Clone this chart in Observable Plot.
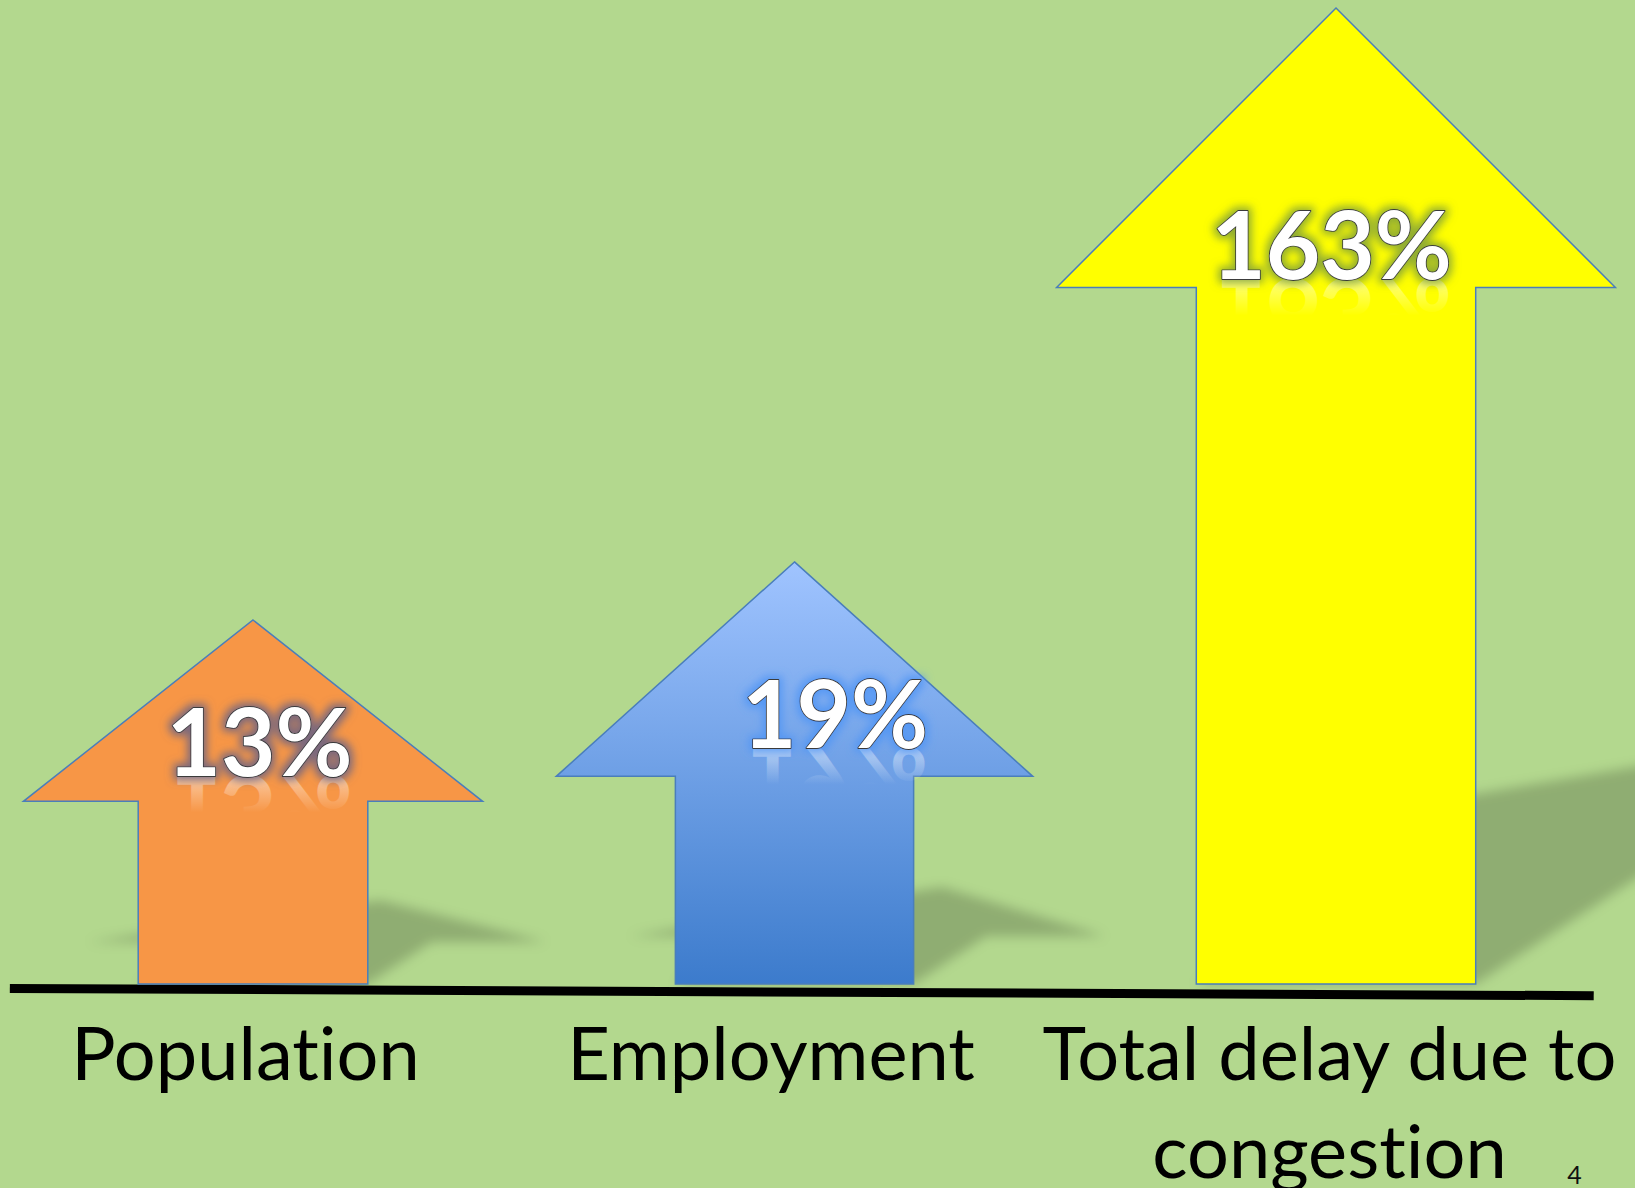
<!DOCTYPE html>
<html><head><meta charset="utf-8">
<script src="https://cdn.jsdelivr.net/npm/d3@7"></script>
<script src="https://cdn.jsdelivr.net/npm/@observablehq/plot@0.6"></script>
<style>html,body{margin:0;padding:0;background:#b3d88e;} svg{display:block} text{font-variant-ligatures:none}</style>
</head><body><div id="chart"></div>
<script>
// ---- data ----
const categories = ["Population", "Employment", "Total delay due to\ncongestion"];
const values = [13, 19, 163];
const valueLabels = ["13%", "19%", "163%"];
const slideNumber = ["4"];

// ---- styles (shape / offsets, not data) ----
const arrowFills = ["#f79646", "url(#blueGrad)", "#ffff00"];
const glowColors = ["#6e6482", "#4f95f5", "#7f9f3a"];
const glowOpacity = [0.9, 0.85, 0.85];
const shaftHalf = [0.212, 0.22, 0.258];   // in x units
const headRatio = [0.79, 0.9, 1.0];       // head height / head half-width
const pctDx = [6, 40, -5];
const pctLift = [26, 29, 9];
const catDx = [-8, -24, -7];
const baseExtent = [-0.449, 2.476];       // baseline extent, x units
const SK = 0.35, SS = 0.23;               // shadow skew / squash

const W = 1635, H = 1188;
const xOpts = {type: "linear", domain: [0, 2], range: [253, 1336]};
const yOpts = {type: "pow", exponent: 0.39, domain: [0, 163], range: [984, 8]};
const xS = Plot.scale({x: xOpts});
const yS = Plot.scale({y: yOpts});

function arrowGeom(i, sx, sy) {
  const cx = sx(i), unit = sx(1) - sx(0);
  const sh = shaftHalf[i] * unit, hw = 2 * sh;
  const ty = sy(values[i]), base = sy(0);
  const hb = ty + headRatio[i] * hw;
  const pts = [[cx, ty], [cx + hw, hb], [cx + sh, hb], [cx + sh, base], [cx - sh, base],
               [cx - sh, hb], [cx - hw, hb]];
  return {pts, hb, base};
}
const headBase = values.map((v, i) => arrowGeom(i, xS.apply, yS.apply).hb);

const pctData = values.map((v, i) => ({
  x: xS.invert(xS.apply(i) + pctDx[i]),
  y: yS.invert(headBase[i] - pctLift[i]),
  label: valueLabels[i]
}));
const catData = categories.map((c, i) => ({
  x: xS.invert(xS.apply(i) + catDx[i]), y: 0, label: c
}));

const shadowMark = (index, {x: sx, y: sy}) => {
  const g = d3.create("svg:g").attr("filter", "url(#blur6)");
  values.forEach((v, i) => {
    const {pts, base} = arrowGeom(i, sx, sy);
    const sp = pts.map(([a, b]) => [a + SK * (base - b), base - SS * (base - b)]);
    g.append("path").attr("d", d3.line()(sp) + "Z").attr("fill", "black").attr("fill-opacity", 0.2);
  });
  return g.node();
};
const baselineMark = (index, {x: sx, y: sy}) => {
  const g = d3.create("svg:g");
  const x1 = sx(baseExtent[0]), x2 = sx(baseExtent[1]), yb = sy(0);
  g.append("line").attr("x1", x1).attr("x2", x2).attr("y1", yb + 9).attr("y2", yb + 9)
    .attr("stroke", "black").attr("stroke-opacity", 0.3).attr("stroke-width", 8)
    .attr("filter", "url(#blur2)").attr("transform", `rotate(0.26 ${x1} ${yb})`);
  g.append("line").attr("x1", x1).attr("x2", x2).attr("y1", yb + 4.5).attr("y2", yb + 4.5)
    .attr("stroke", "black").attr("stroke-width", 9).attr("transform", `rotate(0.26 ${x1} ${yb})`);
  return g.node();
};
const arrowMark = (index, {x: sx, y: sy}) => {
  const g = d3.create("svg:g");
  values.forEach((v, i) => {
    const {pts} = arrowGeom(i, sx, sy);
    g.append("path").attr("d", d3.line()(pts) + "Z").attr("fill", arrowFills[i])
      .attr("stroke", "#4a7ebb").attr("stroke-width", 1.5).attr("stroke-linejoin", "miter");
  });
  return g.node();
};

const svg = Plot.plot({
  width: W, height: H,
  marginTop: 0, marginRight: 0, marginBottom: 0, marginLeft: 0,
  x: {...xOpts, axis: null},
  y: {...yOpts, axis: null},
  style: {background: "#b3d88e", fontFamily: "Lato, sans-serif"},
  marks: [
    shadowMark,
    baselineMark,
    arrowMark,
    Plot.text(pctData, {
      x: "x", y: "y", text: "label", fontSize: 94, fontWeight: 700,
      fill: "white", stroke: "#3a3a3a", strokeWidth: 1.8, lineAnchor: "bottom"
    }),
    Plot.text(catData, {
      x: "x", y: "y", text: "label", fontSize: 74, lineHeight: 1.324, lineAnchor: "top",
      dy: 26, fill: "black"
    }),
    Plot.text(slideNumber, {
      frameAnchor: "bottom-right", text: d => d, fontSize: 25, fill: "#111",
      textAnchor: "middle", lineAnchor: "bottom", dx: -61, dy: -5
    })
  ]
});

// ---- defs: gradients and filters ----
const defs = d3.select(svg).insert("defs", ":first-child");
const bg = defs.append("linearGradient").attr("id", "blueGrad")
  .attr("x1", 0).attr("y1", 0).attr("x2", 0).attr("y2", 1);
bg.append("stop").attr("offset", 0).attr("stop-color", "#a0c4ff");
bg.append("stop").attr("offset", 1).attr("stop-color", "#3c7bcc");
const rg = defs.append("linearGradient").attr("id", "refl")
  .attr("x1", 0).attr("y1", 1).attr("x2", 0).attr("y2", 0);
rg.append("stop").attr("offset", 0).attr("stop-color", "white").attr("stop-opacity", 0.55);
rg.append("stop").attr("offset", 0.18).attr("stop-color", "white").attr("stop-opacity", 0.5);
rg.append("stop").attr("offset", 0.5).attr("stop-color", "white").attr("stop-opacity", 0);
defs.append("filter").attr("id", "blur6").attr("x", "-20%").attr("y", "-50%").attr("width", "140%").attr("height", "200%")
  .append("feGaussianBlur").attr("stdDeviation", 6);
defs.append("filter").attr("id", "blur2").attr("x", "-5%").attr("y", "-300%").attr("width", "110%").attr("height", "700%")
  .append("feGaussianBlur").attr("stdDeviation", 2.5);
glowColors.forEach((c, i) => {
  const f = defs.append("filter").attr("id", `glow${i}`)
    .attr("x", "-30%").attr("y", "-40%").attr("width", "160%").attr("height", "180%");
  f.append("feMorphology").attr("in", "SourceAlpha").attr("operator", "dilate").attr("radius", 3).attr("result", "d");
  f.append("feGaussianBlur").attr("in", "d").attr("stdDeviation", 4.5).attr("result", "b");
  f.append("feFlood").attr("flood-color", c).attr("flood-opacity", glowOpacity[i]);
  f.append("feComposite").attr("in2", "b").attr("operator", "in").attr("result", "g");
  const m = f.append("feMerge");
  m.append("feMergeNode").attr("in", "g");
  m.append("feMergeNode").attr("in", "SourceGraphic");
});

// ---- text glow + reflection ----
Array.from(svg.querySelectorAll("text")).forEach((t) => {
  const i = valueLabels.indexOf(t.textContent);
  if (i < 0) return;
  const clone = t.cloneNode(true);
  clone.setAttribute("transform", (t.getAttribute("transform") || "") + " scale(1,-1)");
  clone.setAttribute("fill", "url(#refl)");
  clone.setAttribute("stroke", "none");
  clone.setAttribute("aria-hidden", "true");
  t.parentNode.insertBefore(clone, t);
  t.setAttribute("filter", `url(#glow${i})`);
});

document.getElementById("chart").appendChild(svg);
</script>
</body></html>
